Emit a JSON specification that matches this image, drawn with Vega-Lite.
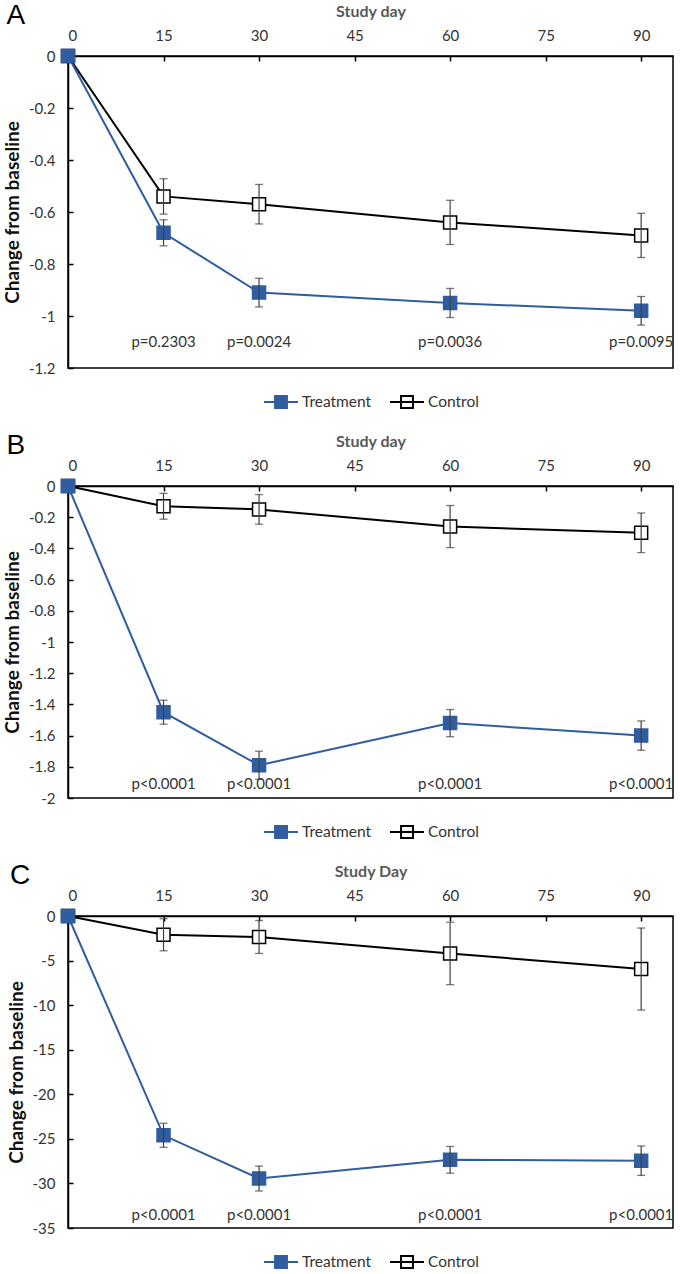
{
  "$schema": "https://vega.github.io/schema/vega-lite/v6.json",
  "background": "white",
  "padding": {"left": 2, "top": 1, "right": 2, "bottom": 0},
  "spacing": 18,
  "config": {
    "font": "Lato",
    "view": {"stroke": "black", "strokeWidth": 1.5},
    "axis": {
      "grid": false,
      "domainColor": "black",
      "domainWidth": 1.5,
      "tickColor": "black",
      "tickWidth": 1.5,
      "tickSize": -5,
      "labelFontSize": 15,
      "labelColor": "#333333",
      "labelOverlap": false,
      "titleFontWeight": "bold",
      "titleFontSize": 16
    },
    "axisX": {"titleColor": "#595959", "labelPadding": 18, "titlePadding": 9},
    "axisY": {"titleColor": "#111111", "labelPadding": 18, "titlePadding": 6, "titleFontSize": 19},
    "legend": {
      "orient": "bottom",
      "direction": "horizontal",
      "labelFontSize": 15.5,
      "labelColor": "#333333",
      "symbolType": "M-1,0H1M-0.35,-0.35H0.35V0.35H-0.35Z",
      "symbolSize": 1156,
      "symbolStrokeWidth": 2,
      "offset": 16,
      "columnPadding": 14,
      "labelOffset": 3,
      "layout": {"anchor": "middle"}
    },
    "title": {"fontSize": 28, "fontWeight": "normal", "font": "Liberation Sans", "anchor": "start", "frame": "bounds", "color": "black", "dx": 3}
  },
  "datasets": {
    "A": [
      {"group": "Control", "day": 0, "value": 0, "lo": null, "hi": null},
      {"group": "Control", "day": 15, "value": -0.54, "lo": -0.608, "hi": -0.472},
      {"group": "Control", "day": 30, "value": -0.57, "lo": -0.646, "hi": -0.494},
      {"group": "Control", "day": 60, "value": -0.64, "lo": -0.725, "hi": -0.555},
      {"group": "Control", "day": 90, "value": -0.69, "lo": -0.775, "hi": -0.605},
      {"group": "Treatment", "day": 0, "value": 0, "lo": null, "hi": null},
      {"group": "Treatment", "day": 15, "value": -0.68, "lo": -0.73, "hi": -0.63},
      {"group": "Treatment", "day": 30, "value": -0.91, "lo": -0.965, "hi": -0.855},
      {"group": "Treatment", "day": 60, "value": -0.95, "lo": -1.006, "hi": -0.894},
      {"group": "Treatment", "day": 90, "value": -0.98, "lo": -1.035, "hi": -0.925}
    ],
    "Ap": [
      {"day": 15, "ypos": -1.1, "label": "p=0.2303"},
      {"day": 30, "ypos": -1.1, "label": "p=0.0024"},
      {"day": 60, "ypos": -1.1, "label": "p=0.0036"},
      {"day": 90, "ypos": -1.1, "label": "p=0.0095"}
    ],
    "B": [
      {"group": "Control", "day": 0, "value": 0, "lo": null, "hi": null},
      {"group": "Control", "day": 15, "value": -0.13, "lo": -0.213, "hi": -0.047},
      {"group": "Control", "day": 30, "value": -0.15, "lo": -0.245, "hi": -0.055},
      {"group": "Control", "day": 60, "value": -0.26, "lo": -0.395, "hi": -0.125},
      {"group": "Control", "day": 90, "value": -0.30, "lo": -0.427, "hi": -0.173},
      {"group": "Treatment", "day": 0, "value": 0, "lo": null, "hi": null},
      {"group": "Treatment", "day": 15, "value": -1.45, "lo": -1.527, "hi": -1.373},
      {"group": "Treatment", "day": 30, "value": -1.79, "lo": -1.88, "hi": -1.70},
      {"group": "Treatment", "day": 60, "value": -1.52, "lo": -1.607, "hi": -1.433},
      {"group": "Treatment", "day": 90, "value": -1.60, "lo": -1.694, "hi": -1.506}
    ],
    "Bp": [
      {"day": 15, "ypos": -1.91, "label": "p<0.0001"},
      {"day": 30, "ypos": -1.91, "label": "p<0.0001"},
      {"day": 60, "ypos": -1.91, "label": "p<0.0001"},
      {"day": 90, "ypos": -1.91, "label": "p<0.0001"}
    ],
    "C": [
      {"group": "Control", "day": 0, "value": 0, "lo": null, "hi": null},
      {"group": "Control", "day": 15, "value": -2.1, "lo": -3.9, "hi": -0.3},
      {"group": "Control", "day": 30, "value": -2.35, "lo": -4.2, "hi": -0.5},
      {"group": "Control", "day": 60, "value": -4.2, "lo": -7.7, "hi": -0.7},
      {"group": "Control", "day": 90, "value": -5.95, "lo": -10.55, "hi": -1.35},
      {"group": "Treatment", "day": 0, "value": 0, "lo": null, "hi": null},
      {"group": "Treatment", "day": 15, "value": -24.6, "lo": -25.95, "hi": -23.25},
      {"group": "Treatment", "day": 30, "value": -29.45, "lo": -30.85, "hi": -28.05},
      {"group": "Treatment", "day": 60, "value": -27.35, "lo": -28.85, "hi": -25.85},
      {"group": "Treatment", "day": 90, "value": -27.45, "lo": -29.1, "hi": -25.8}
    ],
    "Cp": [
      {"day": 15, "ypos": -33.5, "label": "p<0.0001"},
      {"day": 30, "ypos": -33.5, "label": "p<0.0001"},
      {"day": 60, "ypos": -33.5, "label": "p<0.0001"},
      {"day": 90, "ypos": -33.5, "label": "p<0.0001"}
    ]
  },
  "resolve": {"scale": {"stroke": "independent", "fill": "independent"}, "legend": {"stroke": "independent", "fill": "independent"}},
  "vconcat": [
    {
      "width": 605, "height": 312,
      "title": {"text": "A", "offset": -27},
      "data": {"name": "A"},
      "encoding": {
        "x": {"field": "day", "type": "quantitative", "scale": {"domain": [0, 95], "nice": false},
              "axis": {"orient": "top", "title": "Study day", "values": [0, 15, 30, 45, 60, 75, 90], "tickCount": 20}}
      },
      "layer": [
        {"mark": {"type": "line", "strokeWidth": 2},
         "encoding": {
           "y": {"field": "value", "type": "quantitative", "title": "Change from baseline", "scale": {"domain": [-1.2, 0], "nice": false},
                 "axis": {"values": [0, -0.2, -0.4, -0.6, -0.8, -1, -1.2], "tickCount": 20, "labelOverlap": false, "labelExpr": "replace(format(datum.value, '.1~f'), '−', '-')"}},
           "stroke": {"field": "group", "type": "nominal", "title": null, "scale": {"domain": ["Treatment", "Control"], "range": ["#2F5D9F", "#000000"]}}
         }},
        {"mark": {"type": "point", "shape": "square", "size": 169, "filled": true, "strokeWidth": 1.5, "opacity": 1},
         "encoding": {
           "y": {"field": "value", "type": "quantitative", "scale": {"domain": [-1.2, 0], "nice": false}},
           "stroke": {"field": "group", "type": "nominal", "title": null, "scale": {"domain": ["Treatment", "Control"], "range": ["#2F5D9F", "#000000"]}},
           "fill": {"field": "group", "type": "nominal", "title": null, "scale": {"domain": ["Treatment", "Control"], "range": ["#2F5D9F", "#FFFFFF"]}}
         }},
        {"mark": {"type": "rule", "color": "#404040", "strokeWidth": 1.2},
         "encoding": {"y": {"field": "lo", "type": "quantitative"}, "y2": {"field": "hi"}}},
        {"mark": {"type": "tick", "orient": "horizontal", "size": 8, "thickness": 1.3, "color": "#404040"},
         "encoding": {"y": {"field": "lo", "type": "quantitative"}}},
        {"mark": {"type": "tick", "orient": "horizontal", "size": 8, "thickness": 1.3, "color": "#404040"},
         "encoding": {"y": {"field": "hi", "type": "quantitative"}}},
        {"data": {"name": "Ap"}, "mark": {"type": "text", "fontSize": 15, "color": "#333333"},
         "encoding": {"y": {"field": "ypos", "type": "quantitative"}, "text": {"field": "label"}}}
      ]
    },
    {
      "width": 605, "height": 312,
      "title": {"text": "B", "offset": -27},
      "data": {"name": "B"},
      "encoding": {
        "x": {"field": "day", "type": "quantitative", "scale": {"domain": [0, 95], "nice": false},
              "axis": {"orient": "top", "title": "Study day", "values": [0, 15, 30, 45, 60, 75, 90], "tickCount": 20}}
      },
      "layer": [
        {"mark": {"type": "line", "strokeWidth": 2},
         "encoding": {
           "y": {"field": "value", "type": "quantitative", "title": "Change from baseline", "scale": {"domain": [-2, 0], "nice": false},
                 "axis": {"values": [0, -0.2, -0.4, -0.6, -0.8, -1, -1.2, -1.4, -1.6, -1.8, -2], "tickCount": 20, "labelOverlap": false, "labelExpr": "replace(format(datum.value, '.1~f'), '−', '-')"}},
           "stroke": {"field": "group", "type": "nominal", "title": null, "scale": {"domain": ["Treatment", "Control"], "range": ["#2F5D9F", "#000000"]}}
         }},
        {"mark": {"type": "point", "shape": "square", "size": 169, "filled": true, "strokeWidth": 1.5, "opacity": 1},
         "encoding": {
           "y": {"field": "value", "type": "quantitative", "scale": {"domain": [-2, 0], "nice": false}},
           "stroke": {"field": "group", "type": "nominal", "title": null, "scale": {"domain": ["Treatment", "Control"], "range": ["#2F5D9F", "#000000"]}},
           "fill": {"field": "group", "type": "nominal", "title": null, "scale": {"domain": ["Treatment", "Control"], "range": ["#2F5D9F", "#FFFFFF"]}}
         }},
        {"mark": {"type": "rule", "color": "#404040", "strokeWidth": 1.2},
         "encoding": {"y": {"field": "lo", "type": "quantitative"}, "y2": {"field": "hi"}}},
        {"mark": {"type": "tick", "orient": "horizontal", "size": 8, "thickness": 1.3, "color": "#404040"},
         "encoding": {"y": {"field": "lo", "type": "quantitative"}}},
        {"mark": {"type": "tick", "orient": "horizontal", "size": 8, "thickness": 1.3, "color": "#404040"},
         "encoding": {"y": {"field": "hi", "type": "quantitative"}}},
        {"data": {"name": "Bp"}, "mark": {"type": "text", "fontSize": 15, "color": "#333333"},
         "encoding": {"y": {"field": "ypos", "type": "quantitative"}, "text": {"field": "label"}}}
      ]
    },
    {
      "width": 605, "height": 312,
      "title": {"text": "C", "offset": -27},
      "data": {"name": "C"},
      "encoding": {
        "x": {"field": "day", "type": "quantitative", "scale": {"domain": [0, 95], "nice": false},
              "axis": {"orient": "top", "title": "Study Day", "values": [0, 15, 30, 45, 60, 75, 90], "tickCount": 20}}
      },
      "layer": [
        {"mark": {"type": "line", "strokeWidth": 2},
         "encoding": {
           "y": {"field": "value", "type": "quantitative", "title": "Change from baseline", "scale": {"domain": [-35, 0], "nice": false},
                 "axis": {"values": [0, -5, -10, -15, -20, -25, -30, -35], "tickCount": 20, "labelOverlap": false, "labelExpr": "replace(format(datum.value, '.1~f'), '−', '-')"}},
           "stroke": {"field": "group", "type": "nominal", "title": null, "scale": {"domain": ["Treatment", "Control"], "range": ["#2F5D9F", "#000000"]}}
         }},
        {"mark": {"type": "point", "shape": "square", "size": 169, "filled": true, "strokeWidth": 1.5, "opacity": 1},
         "encoding": {
           "y": {"field": "value", "type": "quantitative", "scale": {"domain": [-35, 0], "nice": false}},
           "stroke": {"field": "group", "type": "nominal", "title": null, "scale": {"domain": ["Treatment", "Control"], "range": ["#2F5D9F", "#000000"]}},
           "fill": {"field": "group", "type": "nominal", "title": null, "scale": {"domain": ["Treatment", "Control"], "range": ["#2F5D9F", "#FFFFFF"]}}
         }},
        {"mark": {"type": "rule", "color": "#404040", "strokeWidth": 1.2},
         "encoding": {"y": {"field": "lo", "type": "quantitative"}, "y2": {"field": "hi"}}},
        {"mark": {"type": "tick", "orient": "horizontal", "size": 8, "thickness": 1.3, "color": "#404040"},
         "encoding": {"y": {"field": "lo", "type": "quantitative"}}},
        {"mark": {"type": "tick", "orient": "horizontal", "size": 8, "thickness": 1.3, "color": "#404040"},
         "encoding": {"y": {"field": "hi", "type": "quantitative"}}},
        {"data": {"name": "Cp"}, "mark": {"type": "text", "fontSize": 15, "color": "#333333"},
         "encoding": {"y": {"field": "ypos", "type": "quantitative"}, "text": {"field": "label"}}}
      ]
    }
  ]
}
